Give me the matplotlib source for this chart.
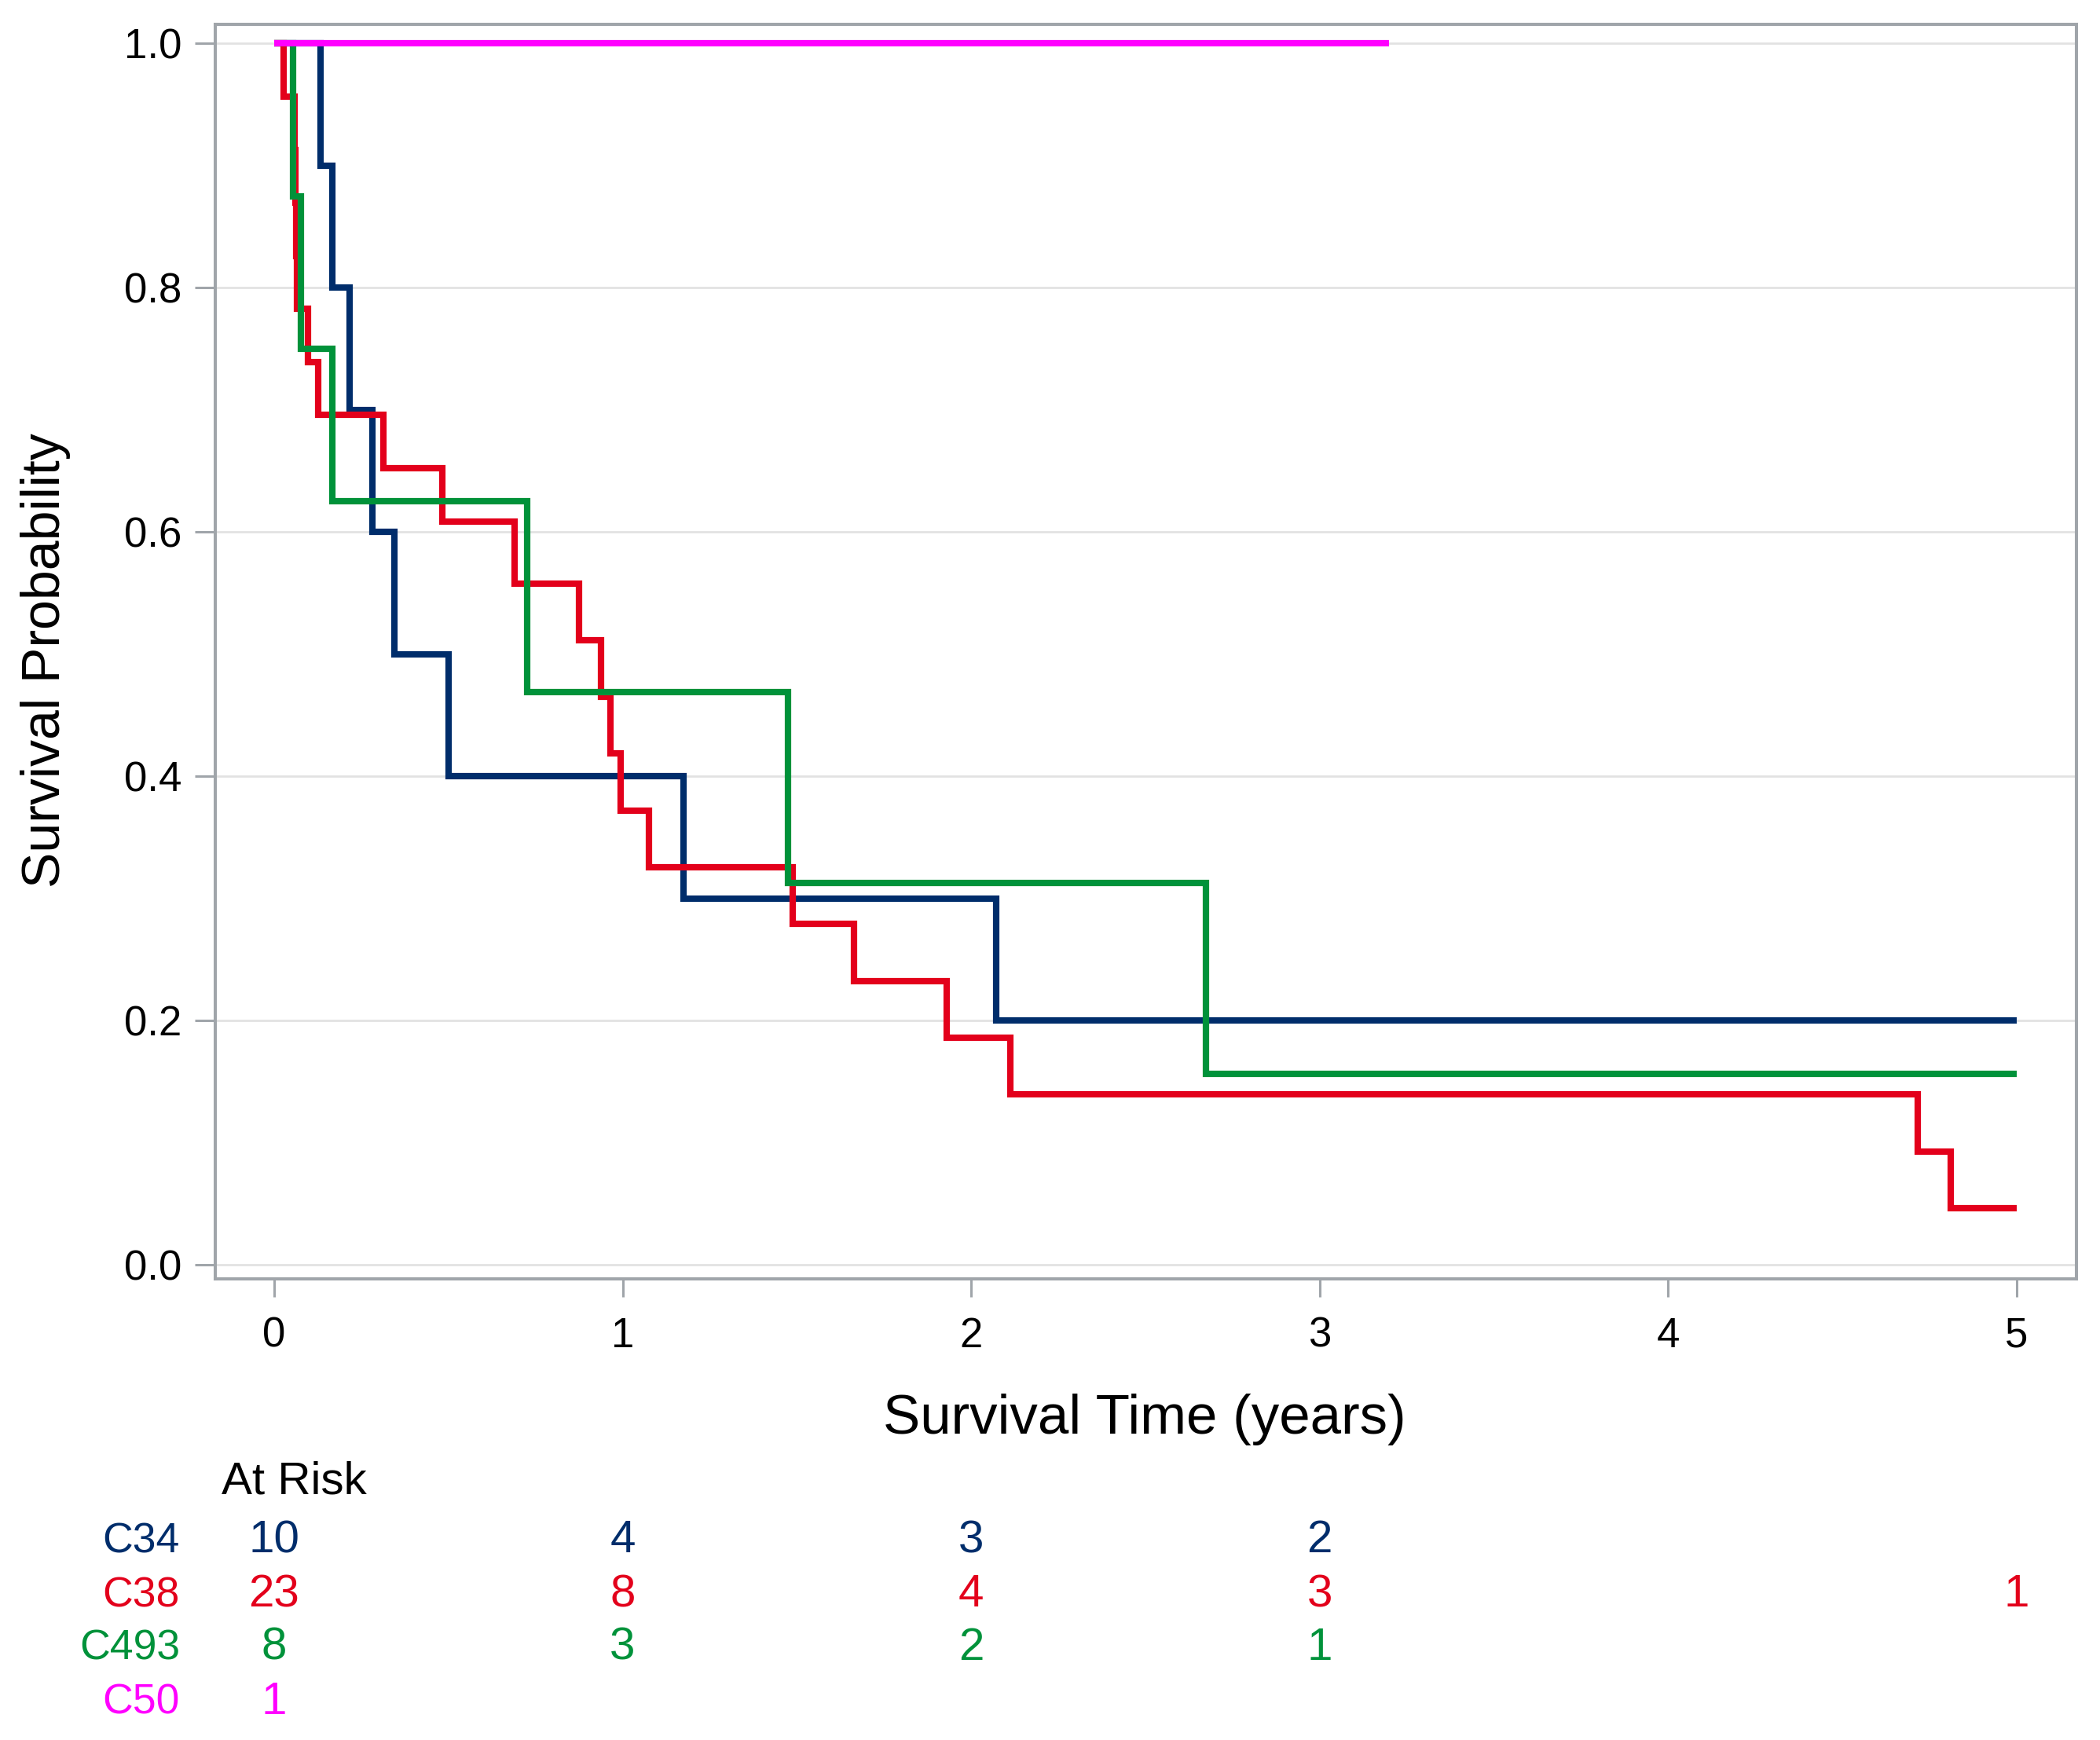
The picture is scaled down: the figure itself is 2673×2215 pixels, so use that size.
import matplotlib
matplotlib.use("Agg")
import matplotlib.pyplot as plt
from matplotlib.transforms import blended_transform_factory

plt.rcParams["font.family"] = ["Liberation Sans", "DejaVu Sans"]

# Kaplan-Meier step curves
c34_t = [0, 0.134, 0.166, 0.216, 0.281, 0.344, 0.501, 1.175, 2.072, 5.0]
c34_s = [1.0, 0.9, 0.8, 0.7, 0.6, 0.5, 0.4, 0.3, 0.2, 0.2]

c38_t = [0, 0.028, 0.059, 0.061, 0.063, 0.065, 0.096, 0.126, 0.314, 0.483,
         0.689, 0.875, 0.939, 0.966, 0.994, 1.075, 1.487, 1.665, 1.929,
         2.113, 4.716, 4.811, 5.0]
c38_s = [1.0, 0.9565, 0.9130, 0.8696, 0.8261, 0.7826, 0.7391, 0.6957,
         0.6522, 0.6087, 0.5580, 0.5115, 0.4650, 0.4185, 0.3720, 0.3255,
         0.2790, 0.2325, 0.1860, 0.1395, 0.0930, 0.0465, 0.0465]

c493_t = [0, 0.054, 0.076, 0.167, 0.727, 1.475, 2.673, 5.0]
c493_s = [1.0, 0.875, 0.75, 0.625, 0.46875, 0.3125, 0.15625, 0.15625]

c50_t = [0, 3.2]
c50_s = [1.0, 1.0]

groups = ["C34", "C38", "C493", "C50"]
colors = ["#002d6b", "#e3001b", "#00923a", "#ff00ff"]

# numbers at risk at years 0..5 (None = blank)
risk_times = [0, 1, 2, 3, 4, 5]
risk_c34 = [10, 4, 3, 2, None, None]
risk_c38 = [23, 8, 4, 3, None, 1]
risk_c493 = [8, 3, 2, 1, None, None]
risk_c50 = [1, None, None, None, None, None]

W, H = 2673, 2215
fig = plt.figure(figsize=(W / 100, H / 100), dpi=100)
ax = fig.add_axes([274 / W, 1 - 1628 / H, (2643 - 274) / W, (1628 - 31) / H])

frame_col = "#a0a5aa"
curves = [(c34_t, c34_s), (c38_t, c38_s), (c493_t, c493_s), (c50_t, c50_s)]
for (t, s), col in zip(curves, colors):
    ax.step(t, s, where="post", color=col, lw=5.9,
            solid_capstyle="butt", solid_joinstyle="miter")

ax.set_xlim(-0.169, 5.172)
ax.set_ylim(-0.0114, 1.0156)
ax.set_xticks(risk_times)
ax.set_yticks([0.0, 0.2, 0.4, 0.6, 0.8, 1.0])
ax.set_yticklabels(["0.0", "0.2", "0.4", "0.6", "0.8", "1.0"])
ax.yaxis.grid(True, color="#e2e2e2", lw=2)
ax.set_axisbelow(True)
for sp in ax.spines.values():
    sp.set_color(frame_col)
    sp.set_linewidth(2.9)
ax.tick_params(axis="x", length=16.5, width=2.2, color=frame_col,
               labelsize=38, pad=18)
ax.tick_params(axis="y", length=18.5, width=2.2, color=frame_col,
               labelsize=38, pad=12)

fig.text(1457 / W, 1 - 1825 / H, "Survival Time (years)", fontsize=51,
         ha="center", va="baseline")
fig.text(58 / W, 1 - 841 / H, "Survival Probability", fontsize=49,
         rotation=90, ha="center", va="center")

# at-risk table
fig.text(282 / W, 1 - 1902 / H, "At Risk", fontsize=42,
         ha="left", va="baseline")
tr = blended_transform_factory(ax.transData, fig.transFigure)
rows = [risk_c34, risk_c38, risk_c493, risk_c50]
baselines = [1976.5, 2045, 2112.7, 2181.7]
for name, vals, col, yb in zip(groups, rows, colors, baselines):
    fig.text(229 / W, 1 - yb / H, name, fontsize=38.5, color=col,
             ha="right", va="baseline")
    for t, v in zip(risk_times, vals):
        if v is not None:
            ax.text(t, 1 - yb / H, str(v), transform=tr, fontsize=42,
                    color=col, ha="center", va="baseline")

fig.savefig("out.png", dpi=100, facecolor="white")
